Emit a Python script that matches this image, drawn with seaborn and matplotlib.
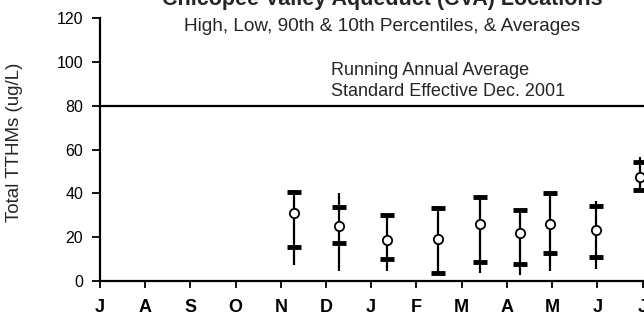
import matplotlib
matplotlib.use("Agg")
import matplotlib.pyplot as plt
import seaborn as sns
import pandas as pd

# month axis (July .. July) and sampling data
month_labels = ["J", "A", "S", "O", "N", "D", "J", "F", "M", "A", "M", "J", "J"]
sample_pos = [4.29, 5.29, 6.35, 7.48, 8.41, 9.29, 9.96, 10.97, 11.95]
high = [41.5, 40.0, 30.0, 34.5, 39.0, 32.6, 40.2, 36.4, 56.5]
p90 = [40.5, 33.8, 30.0, 33.3, 38.5, 32.6, 40.0, 34.4, 54.2]
avg = [31.2, 25.0, 18.6, 19.4, 26.2, 22.1, 26.2, 23.5, 47.7]
p10 = [15.5, 17.4, 10.0, 3.5, 8.8, 7.7, 12.6, 10.8, 41.7]
low = [7.3, 4.7, 4.7, 2.7, 3.8, 2.7, 4.5, 5.3, 41.0]
standard = 80

sns.set_style("ticks")
plt.rcParams["font.family"] = ["Liberation Sans", "DejaVu Sans"]
plt.rcParams["xtick.color"] = "black"
plt.rcParams["ytick.color"] = "black"

df = pd.DataFrame({"pos": sample_pos, "high": high, "p90": p90,
                   "avg": avg, "p10": p10, "low": low})
pct = pd.concat([df[["pos", "p90"]].rename(columns={"p90": "val"}),
                 df[["pos", "p10"]].rename(columns={"p10": "val"})])

fig = plt.figure(figsize=(6.44, 3.18), dpi=100)
ax = fig.add_axes([0.155, 0.116, 0.845, 0.827])

# high-low range
ax.vlines(df["pos"], df["low"], df["high"], color="black", linewidth=1.6)
# 90th / 10th percentile dashes
sns.scatterplot(data=pct, x="pos", y="val", marker="_", s=110,
                color="black", linewidth=3.5, ax=ax, zorder=3)
# averages
sns.scatterplot(data=df, x="pos", y="avg", marker="o", s=45,
                facecolor="white", edgecolor="black", linewidth=1.3,
                ax=ax, zorder=4)

ax.axhline(standard, color="black", linewidth=1.6)
ax.text(5.1, 82.5, "Running Annual Average\nStandard Effective Dec. 2001",
        fontsize=13, va="bottom", ha="left", linespacing=1.35)

ax.set_xlim(0, 12.03)
ax.set_ylim(0, 120)
ax.set_xticks(range(len(month_labels)))
ax.set_xticklabels(month_labels, fontsize=13, fontweight="bold")
ax.set_yticks(range(0, 121, 20))
ax.tick_params(axis="y", labelsize=11.5, length=6, width=1.3, direction="out",
               left=True, pad=6)
ax.tick_params(axis="x", length=5, width=1.3, direction="out", bottom=True, pad=8)
ax.set_xlabel("")
ax.set_ylabel("")
sns.despine(ax=ax, top=True, right=True)
for side in ["left", "bottom"]:
    ax.spines[side].set_linewidth(1.6)
    ax.spines[side].set_color("black")

fig.text(0.022, 0.553, "Total TTHMs (ug/L)", fontsize=13.5,
         rotation=90, ha="center", va="center")
fig.text(0.593, 1.0, "Chicopee Valley Aqueduct (CVA) Locations",
         fontsize=15.5, fontweight="bold", ha="center", va="center")
fig.text(0.593, 0.918, "High, Low, 90th & 10th Percentiles, & Averages",
         fontsize=13.7, ha="center", va="center")

fig.savefig("out.png", dpi=100)
